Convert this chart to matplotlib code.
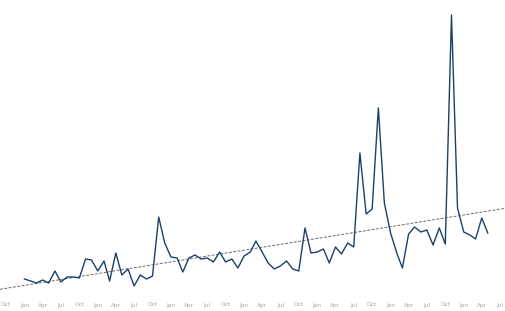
import matplotlib
matplotlib.use("Agg")
import matplotlib.pyplot as plt
import matplotlib.dates as mdates
import numpy as np
import pandas as pd

START = "2016-01-01"
# monthly values
values = [11, 9, 7, 10, 7, 19, 8, 13, 13, 12,
          31, 30, 19, 29, 9, 37, 15, 21, 4, 15,
          11, 14, 73, 47, 33, 32, 18, 32, 35, 31,
          32, 28, 38, 28, 31, 22, 34, 38, 49, 38,
          27, 21, 24, 29, 21, 19, 62, 37, 38, 41,
          27, 43, 36, 47, 43, 137, 76, 81, 182, 87,
          57, 37, 22, 56, 63, 58, 60, 45, 62, 46,
          275, 82, 58, 55, 51, 72, 57]

months = pd.date_range(START, periods=len(values), freq="MS")

fig = plt.figure(figsize=(5.05, 3.11), dpi=100)
ax = fig.add_axes([0, 21 / 311, 1, 290 / 311])

ax.plot(months, values, color="#1d3f6b", lw=1.0, zorder=3)

# linear trend line across the whole axis
x_num = mdates.date2num(months)
slope, icpt = np.polyfit(x_num, values, 1)
x0 = mdates.date2num(pd.Timestamp("2015-09-01"))
x1 = mdates.date2num(pd.Timestamp("2022-07-26"))
ax.set_xlim(x0, x1)
ax.plot([x0, x1], [slope * x0 + icpt, slope * x1 + icpt],
        color="#6b6b6b", lw=0.7, ls=(0, (3, 1.5)), zorder=2)

ax.set_ylim(0, 290)
ax.xaxis.set_major_locator(mdates.MonthLocator(bymonth=[1, 4, 7, 10]))
ax.xaxis.set_major_formatter(mdates.DateFormatter("%b"))
ax.tick_params(axis="x", length=0, labelsize=4.2, labelcolor="#a8a8a8", pad=9)
ax.set_yticks([])
for s in ax.spines.values():
    s.set_visible(False)

fig.savefig("out.png", dpi=100)
